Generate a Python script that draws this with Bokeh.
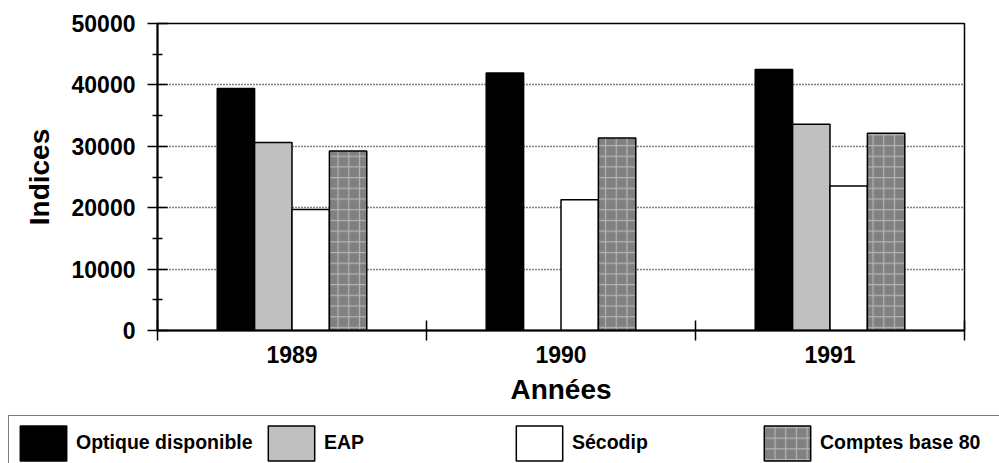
import numpy as np
from bokeh.plotting import figure
from bokeh.layouts import column
from bokeh.models import Range1d, FixedTicker, Legend, LegendItem
from bokeh.embed import file_html
from bokeh.resources import INLINE

# ---- data ----
years = ["1989", "1990", "1991"]
optique = [39400, 41950, 42500]
eap = [30600, float("nan"), 33600]
secodip = [19700, 21300, 23530]
comptes = [29230, 31350, 32110]
series_names = ["Optique disponible", "EAP", "Sécodip", "Comptes base 80"]
y_ticks = [0, 10000, 20000, 30000, 40000, 50000]
y_tick_labels = ["0", "10000", "20000", "30000", "40000", "50000"]

FONT = "Liberation Sans"

p = figure(width=999, height=412, output_backend="svg", toolbar_location=None,
           x_range=Range1d(0, len(years)), y_range=Range1d(y_ticks[0], y_ticks[-1]),
           min_border_left=157, min_border_right=35, min_border_top=23,
           min_border_bottom=82,
           x_axis_label="Années", y_axis_label="Indices")
p.frame_align = False
p.background_fill_color = "white"
p.border_fill_color = "white"
p.outline_line_color = "black"
p.outline_line_width = 1.5

# grid
p.xgrid.visible = False
p.ygrid.grid_line_color = "black"
p.ygrid.grid_line_dash = "1 2"
p.ygrid.grid_line_width = 1.3

# bars
centers = np.arange(len(years)) + 0.5
bw = 0.139
offsets = [-1.5, -0.5, 0.5, 1.5]
series = [optique, eap, secodip, comptes]
styles = [
    dict(fill_color="black", line_color="black"),
    dict(fill_color="#c0c0c0", line_color="black"),
    dict(fill_color="white", line_color="black"),
    dict(fill_color="#808080", line_color="black", hatch_pattern="+",
         hatch_color="#b4b4b4", hatch_scale=10.7, hatch_weight=1.2),
]
for vals, off, st in zip(series, offsets, styles):
    p.vbar(x=centers + off * bw, top=vals, bottom=0, width=bw,
           line_width=1.5, **st)

# x axis
xa = p.xaxis[0]
xa.ticker = FixedTicker(ticks=list(centers),
                        minor_ticks=list(range(len(years) + 1)))
xa.major_label_overrides = {float(c): y for c, y in zip(centers, years)}
xa.major_tick_in = 0
xa.major_tick_out = 0
xa.minor_tick_in = 10
xa.minor_tick_out = 10
xa.major_label_standoff = 5
xa.axis_label_standoff = 8

# y axis
ya = p.yaxis[0]
ya.ticker = FixedTicker(ticks=y_ticks,
                        minor_ticks=[(a + b) / 2 for a, b in zip(y_ticks[:-1], y_ticks[1:])])
ya.major_label_overrides = {t: l for t, l in zip(y_ticks, y_tick_labels)}
ya.major_tick_in = 10
ya.major_tick_out = 10
ya.minor_tick_in = 5
ya.minor_tick_out = 5
ya.major_label_standoff = 12
ya.axis_label_standoff = 14

for ax in (xa, ya):
    ax.axis_line_color = "black"
    ax.axis_line_width = 2
    ax.major_tick_line_color = "black"
    ax.minor_tick_line_color = "black"
    ax.major_tick_line_width = 1.5
    ax.minor_tick_line_width = 1.5
    ax.major_label_text_font = FONT
    ax.major_label_text_font_style = "bold"
    ax.major_label_text_font_size = "23px"
    ax.major_label_text_color = "black"
    ax.axis_label_text_font = FONT
    ax.axis_label_text_font_style = "bold"
    ax.axis_label_text_font_size = "28px"
    ax.axis_label_text_color = "black"

# legend strip (separate canvas; its bars lie below its y range, i.e. outside
# the window, so only the legend swatches show)
p2 = figure(width=999, height=51, output_backend="svg", toolbar_location=None,
            x_range=Range1d(0, len(years)), y_range=Range1d(100000, 200000),
            x_axis_type=None, y_axis_type=None, min_border=0)
p2.frame_align = False
p2.outline_line_color = None
p2.background_fill_color = "white"
p2.border_fill_color = "white"
p2.xgrid.visible = False
p2.ygrid.visible = False
legend_renderers = [p2.vbar(x=centers + off * bw, top=vals, bottom=0, width=bw,
                            line_width=1.5, **st)
                    for vals, off, st in zip(series, offsets, styles)]
legend = Legend(
    items=[LegendItem(label=n, renderers=[r]) for n, r in zip(series_names, legend_renderers)],
    location=(8, -7.5), orientation="horizontal",
    glyph_width=58, glyph_height=44, label_width=180, label_standoff=4,
    spacing=6, padding=5, margin=0,
    border_line_color="black", border_line_width=1.5,
    background_fill_color="white", background_fill_alpha=1.0,
    label_text_font=FONT, label_text_font_style="bold",
    label_text_font_size="19.5px", label_text_color="black",
)
p2.add_layout(legend)

with open("out.html", "w") as f:
    f.write(file_html(column(p, p2, spacing=0), INLINE))
